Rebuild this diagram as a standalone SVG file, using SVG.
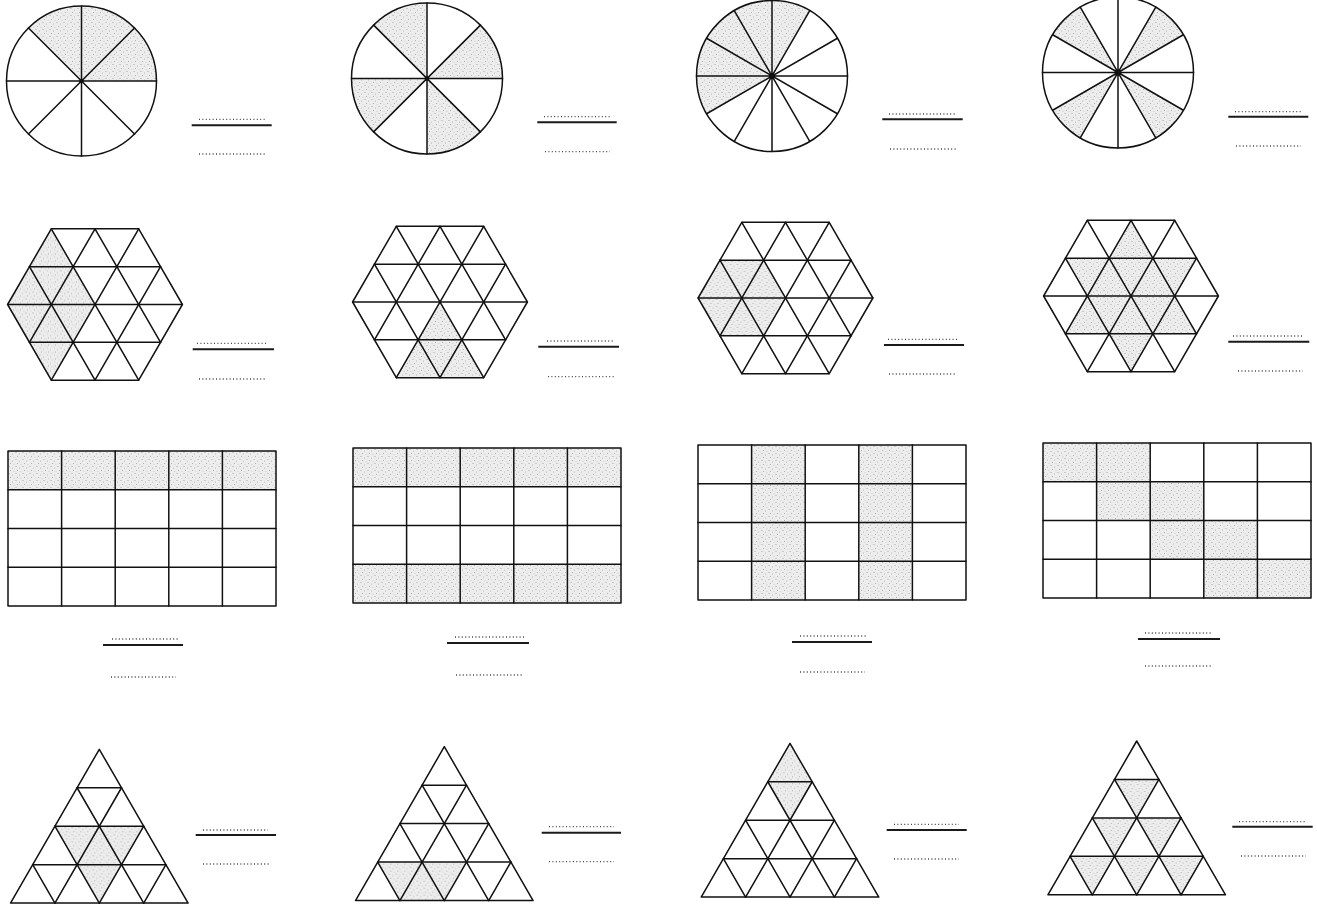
<svg xmlns="http://www.w3.org/2000/svg" width="1317" height="905" viewBox="0 0 1317 905">
<style>
.ln{fill:none;stroke:#111;stroke-width:1.5;stroke-linejoin:round;stroke-linecap:round}
.sh{fill:url(#stip);stroke:none}
.dot{fill:none;stroke:#444;stroke-width:1.3;stroke-dasharray:1 2.4}
.bar{fill:none;stroke:#1a1a1a;stroke-width:2}
.ctr{fill:#111}
</style>
<defs>
<pattern id="stip" patternUnits="userSpaceOnUse" width="7" height="7">
<rect width="7" height="7" fill="#ededed"/>
<circle cx="1" cy="1.5" r="0.55" fill="#9a9a9a"/>
<circle cx="4.5" cy="3" r="0.5" fill="#a5a5a5"/>
<circle cx="2.5" cy="5.5" r="0.5" fill="#9a9a9a"/>
<circle cx="6" cy="6.2" r="0.45" fill="#aaaaaa"/>
</pattern>
<g id="hexgrid" class="ln">
<path d="M-43.7,-75.69 L43.7,-75.69 L87.4,0 L43.7,75.69 L-43.7,75.69 L-87.4,0 Z"/>
<path d="M-65.55,-37.845 H65.55 M-87.4,0 H87.4 M-65.55,37.845 H65.55"/>
<path d="M-43.7,75.69 L43.7,-75.69 M0,75.69 L65.55,-37.845 M-65.55,37.845 L0,-75.69"/>
<path d="M-43.7,-75.69 L43.7,75.69 M0,-75.69 L65.55,37.845 M-65.55,-37.845 L0,75.69"/>
</g>
<g id="trigrid" class="ln">
<path d="M0,0 L88.8,153.8 L-88.8,153.8 Z"/>
<path d="M-22.2,38.45 H22.2 M-44.4,76.9 H44.4 M-66.6,115.35 H66.6"/>
<path d="M22.2,38.45 L-44.4,153.8 M44.4,76.9 L0,153.8 M66.6,115.35 L44.4,153.8"/>
<path d="M-22.2,38.45 L44.4,153.8 M-44.4,76.9 L0,153.8 M-66.6,115.35 L-44.4,153.8"/>
</g>
<g id="rectgrid" class="ln">
<rect x="0" y="0" width="268" height="155"/>
<path d="M53.6,0 V155 M107.2,0 V155 M160.8,0 V155 M214.4,0 V155 M0,38.75 H268 M0,77.5 H268 M0,116.25 H268"/>
</g>
</defs>
<rect width="1317" height="905" fill="#ffffff"/>

<!-- Circles -->
<g id="circle-1">
<path class="sh" d="M81.5,81 L156.5,81 A75,75 0 0 0 28.47,27.97 Z"/>
<circle class="ln" cx="81.5" cy="81" r="75"/>
<path class="ln" d="M6.5,81 H156.5 M81.5,6 V156 M134.53,27.97 L28.47,134.03 M28.47,27.97 L134.53,134.03"/>
<circle class="ctr" cx="81.5" cy="81" r="2.2"/>
</g>
<g id="circle-2">
<path class="sh" d="M427,78.5 L502.5,78.5 A75.5,75.5 0 0 0 480.39,25.11 Z M427,78.5 L427,3 A75.5,75.5 0 0 0 373.61,25.11 Z M427,78.5 L351.5,78.5 A75.5,75.5 0 0 0 373.61,131.89 Z M427,78.5 L427,154 A75.5,75.5 0 0 0 480.39,131.89 Z"/>
<circle class="ln" cx="427" cy="78.5" r="75.5"/>
<path class="ln" d="M351.5,78.5 H502.5 M427,3 V154 M480.39,25.11 L373.61,131.89 M373.61,25.11 L480.39,131.89"/>
<circle class="ctr" cx="427" cy="78.5" r="2.2"/>
</g>
<g id="circle-3">
<path class="sh" d="M772,76 L809.75,10.62 A75.5,75.5 0 0 0 706.62,113.75 Z"/>
<circle class="ln" cx="772" cy="76" r="75.5"/>
<path class="ln" d="M696.5,76 H847.5 M772,0.5 V151.5 M837.38,38.25 L706.62,113.75 M809.75,10.62 L734.25,141.38 M734.25,10.62 L809.75,141.38 M706.62,38.25 L837.38,113.75"/>
<circle class="ctr" cx="772" cy="76" r="3"/>
</g>
<g id="circle-4">
<path class="sh" d="M1118,72.5 L1183.38,34.75 A75.5,75.5 0 0 0 1155.75,7.12 Z M1118,72.5 L1080.25,7.12 A75.5,75.5 0 0 0 1052.62,34.75 Z M1118,72.5 L1052.62,110.25 A75.5,75.5 0 0 0 1080.25,137.88 Z M1118,72.5 L1155.75,137.88 A75.5,75.5 0 0 0 1183.38,110.25 Z"/>
<circle class="ln" cx="1118" cy="72.5" r="75.5"/>
<path class="ln" d="M1042.5,72.5 H1193.5 M1118,-3 V148 M1183.38,34.75 L1052.62,110.25 M1155.75,7.12 L1080.25,137.88 M1080.25,7.12 L1155.75,137.88 M1052.62,34.75 L1183.38,110.25"/>
<circle class="ctr" cx="1118" cy="72.5" r="3"/>
</g>

<!-- Hexagons -->
<g id="hexagon-1" transform="translate(95,304.5)">
<path class="sh" d="M-43.7,-75.69 L-87.4,0 L-43.7,75.69 L0,0 Z"/>
<use href="#hexgrid"/>
</g>
<g id="hexagon-2" transform="translate(440,302)">
<path class="sh" d="M0,0 L-43.7,75.69 L43.7,75.69 Z"/>
<use href="#hexgrid"/>
</g>
<g id="hexagon-3" transform="translate(785.5,298)">
<path class="sh" d="M-87.4,0 L-65.55,-37.845 L-21.85,-37.845 L0,0 L-21.85,37.845 L-65.55,37.845 Z"/>
<use href="#hexgrid"/>
</g>
<g id="hexagon-4" transform="translate(1131,296)">
<path class="sh" d="M0,-75.69 L21.85,-37.845 L65.55,-37.845 L43.7,0 L65.55,37.845 L21.85,37.845 L0,75.69 L-21.85,37.845 L-65.55,37.845 L-43.7,0 L-65.55,-37.845 L-21.85,-37.845 Z"/>
<use href="#hexgrid"/>
</g>

<!-- Rectangles -->
<g id="rectangle-1" transform="translate(8,451)">
<rect class="sh" x="0" y="0" width="268" height="38.75"/>
<use href="#rectgrid"/>
</g>
<g id="rectangle-2" transform="translate(353,448)">
<rect class="sh" x="0" y="0" width="268" height="38.75"/>
<rect class="sh" x="0" y="116.25" width="268" height="38.75"/>
<use href="#rectgrid"/>
</g>
<g id="rectangle-3" transform="translate(698,445)">
<rect class="sh" x="53.6" y="0" width="53.6" height="155"/>
<rect class="sh" x="160.8" y="0" width="53.6" height="155"/>
<use href="#rectgrid"/>
</g>
<g id="rectangle-4" transform="translate(1043,443)">
<path class="sh" d="M0,0 H107.2 V38.75 H160.8 V77.5 H214.4 V116.25 H268 V155 H160.8 V116.25 H107.2 V77.5 H53.6 V38.75 H0 Z"/>
<use href="#rectgrid"/>
</g>

<!-- Triangles -->
<g id="triangle-1" transform="translate(99.3,749.3)">
<path class="sh" d="M-44.4,76.9 L44.4,76.9 L22.2,115.35 L0,153.8 L-22.2,115.35 Z"/>
<use href="#trigrid"/>
</g>
<g id="triangle-2" transform="translate(444.3,746.7)">
<path class="sh" d="M-66.6,115.35 L22.2,115.35 L0,153.8 L-44.4,153.8 Z"/>
<use href="#trigrid"/>
</g>
<g id="triangle-3" transform="translate(790,743.3)">
<path class="sh" d="M0,0 L22.2,38.45 L0,76.9 L-22.2,38.45 Z"/>
<use href="#trigrid"/>
</g>
<g id="triangle-4" transform="translate(1136.7,741)">
<path class="sh" d="M-22.2,38.45 L22.2,38.45 L0,76.9 Z M-44.4,76.9 L0,76.9 L-22.2,115.35 Z M0,76.9 L44.4,76.9 L22.2,115.35 Z M-66.6,115.35 L-22.2,115.35 L-44.4,153.8 Z M-22.2,115.35 L22.2,115.35 L0,153.8 Z M22.2,115.35 L66.6,115.35 L44.4,153.8 Z"/>
<use href="#trigrid"/>
</g>

<!-- Fraction blanks -->
<g id="fractions">
<g id="frac-c1"><path class="dot" d="M199,119.3 H265 M199,154 H265"/><path class="bar" d="M191.7,125.3 H271.7"/></g>
<g id="frac-c2"><path class="dot" d="M544,116.7 H610 M545,151.7 H610"/><path class="bar" d="M537.3,122.3 H616.7"/></g>
<g id="frac-c3"><path class="dot" d="M889,114 H956 M890,149 H956"/><path class="bar" d="M882.3,119.3 H962.7"/></g>
<g id="frac-c4"><path class="dot" d="M1235,111.7 H1301 M1236,146 H1301"/><path class="bar" d="M1228.3,116.7 H1308.3"/></g>
<g id="frac-h1"><path class="dot" d="M197,343.3 H267 M199,379 H267"/><path class="bar" d="M192.7,349.3 H274"/></g>
<g id="frac-h2"><path class="dot" d="M547,341 H614 M548,376.7 H614"/><path class="bar" d="M538.3,346.7 H619"/></g>
<g id="frac-h3"><path class="dot" d="M888,339.3 H957 M889,374 H957"/><path class="bar" d="M884,345 H964"/></g>
<g id="frac-h4"><path class="dot" d="M1233,336 H1303 M1238,371 H1303"/><path class="bar" d="M1228.3,341.7 H1309.3"/></g>
<g id="frac-r1"><path class="dot" d="M112,639 H180 M111,677 H176"/><path class="bar" d="M103,645 H183"/></g>
<g id="frac-r2"><path class="dot" d="M455,637 H525 M456,675 H523"/><path class="bar" d="M447,643 H529"/></g>
<g id="frac-r3"><path class="dot" d="M800,636 H866 M800,672 H865"/><path class="bar" d="M792,642 H872"/></g>
<g id="frac-r4"><path class="dot" d="M1145,633 H1212 M1145,666 H1212"/><path class="bar" d="M1138,639 H1220"/></g>
<g id="frac-t1"><path class="dot" d="M203,830 H268 M203,864 H269"/><path class="bar" d="M195.7,835 H276"/></g>
<g id="frac-t2"><path class="dot" d="M549,826.7 H614 M549,861.7 H614"/><path class="bar" d="M541.7,832.7 H621"/></g>
<g id="frac-t3"><path class="dot" d="M894,824.3 H959 M894,859 H959"/><path class="bar" d="M886.7,830 H966.7"/></g>
<g id="frac-t4"><path class="dot" d="M1239,821.7 H1306 M1241,856 H1306"/><path class="bar" d="M1232.3,826.7 H1312.7"/></g>
</g>
</svg>
